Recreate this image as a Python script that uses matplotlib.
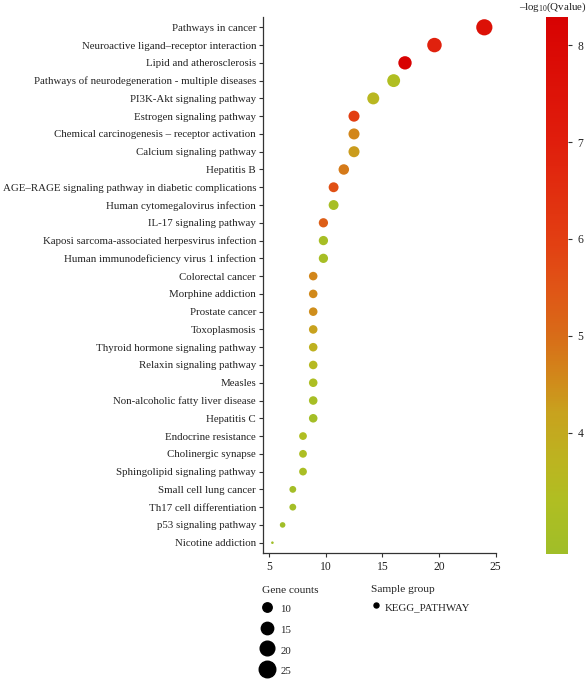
import numpy as np
import matplotlib
matplotlib.use("Agg")
import matplotlib.pyplot as plt
from matplotlib.colors import LinearSegmentedColormap, Normalize
from matplotlib.cm import ScalarMappable
from matplotlib.lines import Line2D

plt.rcParams["font.family"] = ["Liberation Serif", "DejaVu Serif"]
plt.rcParams["mathtext.fontset"] = "custom"
plt.rcParams["mathtext.rm"] = "Liberation Serif"
plt.rcParams["mathtext.it"] = "Liberation Serif:italic"

# ── Data (top row first) ───────────────────────────────────
pathways = [
    "Pathways in cancer",
    "Neuroactive ligand\u2013receptor interaction",
    "Lipid and atherosclerosis",
    "Pathways of neurodegeneration - multiple diseases",
    "PI3K-Akt signaling pathway",
    "Estrogen signaling pathway",
    "Chemical carcinogenesis \u2013 receptor activation",
    "Calcium signaling pathway",
    "Hepatitis B",
    "AGE\u2013RAGE signaling pathway in diabetic complications",
    "Human cytomegalovirus infection",
    "IL-17 signaling pathway",
    "Kaposi sarcoma-associated herpesvirus infection",
    "Human immunodeficiency virus 1 infection",
    "Colorectal cancer",
    "Morphine addiction",
    "Prostate cancer",
    "Toxoplasmosis",
    "Thyroid hormone signaling pathway",
    "Relaxin signaling pathway",
    "Measles",
    "Non-alcoholic fatty liver disease",
    "Hepatitis C",
    "Endocrine resistance",
    "Cholinergic synapse",
    "Sphingolipid signaling pathway",
    "Small cell lung cancer",
    "Th17 cell differentiation",
    "p53 signaling pathway",
    "Nicotine addiction",
]
gene_counts = [24.0, 19.6, 17.0, 16.0, 14.2, 12.5, 12.5, 12.5, 11.6, 10.7,
               10.7, 9.8, 9.8, 9.8, 8.9, 8.9, 8.9, 8.9, 8.9, 8.9,
               8.9, 8.9, 8.9, 8.0, 8.0, 8.0, 7.1, 7.1, 6.2, 5.3]
neg_log_q = [7.6, 6.9, 8.29, 3.3, 3.6, 6.0, 4.6, 4.3, 4.8, 5.6,
             3.0, 5.3, 3.0, 3.0, 4.6, 4.55, 4.5, 4.2, 3.8, 3.5,
             3.2, 3.0, 2.9, 3.3, 3.2, 3.1, 2.9, 2.9, 2.8, 2.75]
size_breaks = [10, 15, 20, 25]
cbar_ticks = [4, 5, 6, 7, 8]

stop_vals = [2.75, 3.3, 3.7, 4.2, 4.6, 5.0, 5.5, 6.0, 7.0, 8.29]
stop_cols = ["#a0be28", "#b0be22", "#bcb420", "#c8a21e", "#d2861a",
             "#d86c18", "#e05416", "#e23e12", "#e01e0c", "#d80202"]

# ── Helpers ────────────────────────────────────────────────
DPI = 100
cmin, cmax = min(gene_counts), max(gene_counts)


def marker_pt(c):
    # area palette like ggplot scale_size: diameter ~ sqrt of rescaled value
    d_px = 2.6 + 13.6 * np.sqrt(max(c - cmin, 0) / (cmax - cmin))
    return d_px * 72 / DPI


vmin, vmax = min(neg_log_q), max(neg_log_q)
cmap = LinearSegmentedColormap.from_list(
    "qcol", [((v - vmin) / (vmax - vmin), c) for v, c in zip(stop_vals, stop_cols)])
norm = Normalize(vmin=vmin, vmax=vmax)

TXT = "#222222"
AX = "#333333"
FS = 7.8

W, H = 588, 679
fig = plt.figure(figsize=(W / DPI, H / DPI), dpi=DPI)
ax = fig.add_axes([263 / W, 1 - 553 / H, (496 - 263) / W, (553 - 17) / H])

n = len(pathways)
ypos = np.arange(n)[::-1]
sizes = [marker_pt(c) ** 2 for c in gene_counts]
ax.scatter(gene_counts, ypos, s=sizes, c=neg_log_q, cmap=cmap, norm=norm,
           edgecolors="none", zorder=3)

ax.set_xlim(4.47, 25.03)
ax.set_ylim(-0.58, n - 1 + 0.58)
ax.set_xticks([5, 10, 15, 20, 25])
ax.set_yticks(ypos)
ax.set_yticklabels(pathways)
for s in ["top", "right"]:
    ax.spines[s].set_visible(False)
for s in ["left", "bottom"]:
    ax.spines[s].set_color(AX)
    ax.spines[s].set_linewidth(0.9)
ax.tick_params(axis="both", colors=AX, labelcolor=TXT, labelsize=FS,
               length=3, width=0.8)
ax.tick_params(axis="y", pad=2)
ax.tick_params(axis="x", pad=3, labelsize=FS + 0.6)

# ── Colour bar ─────────────────────────────────────────────
cax = fig.add_axes([546 / W, 1 - 554 / H, 22 / W, (554 - 17) / H])
cb = fig.colorbar(ScalarMappable(norm=norm, cmap=cmap), cax=cax)
cb.outline.set_visible(False)
cb.set_ticks(cbar_ticks)
cax.tick_params(colors=AX, labelcolor=TXT, labelsize=FS + 0.6, length=3,
                width=0.8, pad=4)
fig.text(553 / W, 1 - 7.5 / H, "\u2013log$_{10}$(Qvalue)",
         ha="center", va="center", fontsize=FS, color=TXT)

# ── Legends ────────────────────────────────────────────────
size_handles = [Line2D([], [], linestyle="none", marker="o", color="black",
                       markersize=marker_pt(b)) for b in size_breaks]
leg1 = fig.legend(size_handles, [str(b) for b in size_breaks], title="Gene counts",
                  loc="upper left", bbox_to_anchor=(262 / W, 1 - 586 / H),
                  frameon=False, fontsize=FS, title_fontsize=FS + 0.4,
                  handlelength=1.0, handleheight=1.65, handletextpad=0.7,
                  labelspacing=0.6, borderpad=0, borderaxespad=0,
                  alignment="left")
for t in leg1.get_texts():
    t.set_color(TXT)
leg1.get_title().set_color(TXT)

grp_handle = [Line2D([], [], linestyle="none", marker="o", color="black",
                     markersize=5 * 72 / DPI)]
leg2 = fig.legend(grp_handle, ["KEGG_PATHWAY"], title="Sample group",
                  loc="upper left", bbox_to_anchor=(371 / W, 1 - 585 / H),
                  frameon=False, fontsize=FS, title_fontsize=FS + 0.4,
                  handlelength=0.9, handleheight=1.44, handletextpad=0.4,
                  labelspacing=0.6, borderpad=0, borderaxespad=0,
                  alignment="left")
for t in leg2.get_texts():
    t.set_color(TXT)
leg2.get_title().set_color(TXT)

fig.savefig("out.png", dpi=DPI)
